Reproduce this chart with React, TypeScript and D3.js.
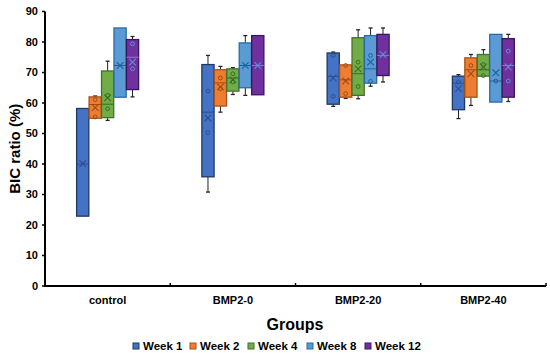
import React from "react";
import * as d3 from "d3";

const groups = ["control", "BMP2-0", "BMP2-20", "BMP2-40"];
const weeks = ["Week 1", "Week 2", "Week 4", "Week 8", "Week 12"];
const yTicks = [0, 10, 20, 30, 40, 50, 60, 70, 80, 90];

// per week: one value per group (control, BMP2-0, BMP2-20, BMP2-40)
const mins = [
  [22.9, 30.8, 58.9, 54.9],
  [55.0, 57.0, 61.5, 59.2],
  [54.3, 62.8, 61.4, 68.8],
  [61.9, 62.5, 65.5, 60.3],
  [62.0, 62.7, 66.9, 60.5],
];
const q1s = [
  [22.9, 35.8, 59.6, 57.8],
  [55.0, 59.0, 61.9, 61.9],
  [55.2, 63.9, 62.5, 68.8],
  [61.9, 65.0, 66.5, 60.3],
  [64.4, 62.7, 69.0, 61.9],
];
const medians = [
  [40.0, 57.0, 68.7, 66.5],
  [59.5, 66.6, 67.6, 70.9],
  [59.6, 68.2, 69.6, 70.9],
  [72.3, 72.3, 71.2, 67.2],
  [75.0, 72.3, 75.6, 72.3],
];
const q3s = [
  [58.2, 72.6, 76.4, 68.8],
  [62.0, 70.9, 72.5, 74.8],
  [70.5, 71.2, 81.4, 75.9],
  [84.6, 79.7, 82.1, 82.5],
  [80.8, 82.1, 82.5, 81.1],
];
const maxs = [
  [58.2, 75.6, 76.7, 69.3],
  [62.3, 72.0, 72.5, 75.9],
  [73.7, 71.6, 84.0, 77.5],
  [84.6, 82.1, 84.6, 82.5],
  [81.8, 82.1, 84.6, 82.5],
];
const means = [
  [40.1, 55.1, 68.2, 64.7],
  [58.5, 65.3, 67.2, 69.6],
  [61.7, 67.6, 71.2, 71.8],
  [72.3, 72.3, 73.4, 69.9],
  [73.4, 72.3, 75.9, 71.8],
];
const innerPoints: number[][][] = [
  [[], [63.9, 50.3], [75.6, 62.2], [66.9]],
  [[61.1, 55.4], [68.2, 64.7], [72.3, 63.1], [72.3]],
  [[62.5, 58.1], [69.6, 66.9], [73.4, 65.4], [72.6, 69.0]],
  [[], [], [75.6, 67.1], [67.2]],
  [[79.4, 71.2], [], [], [77.0, 67.2]],
];

const fills = ["#4472C4", "#ED7D31", "#70AD47", "#5B9BD5", "#7030A0"];
const strokes = ["#1F3864", "#A5521C", "#476F2C", "#2A6AA8", "#3A1858"];
const marks = ["#2F4F8F", "#A04C12", "#3D6B25", "#1F5F9A", "#5B8FD8"];

export default function App() {
  const width = 550;
  const height = 358;
  const font = "'Liberation Sans', Arial, sans-serif";

  const x = d3.scaleBand().domain(groups).range([45, 546]).padding(0);
  const inner = d3.scaleBand().domain(weeks).range([0, 62]).paddingInner(0.02);
  const y = d3.scaleLinear().domain([0, 90]).range([286, 11.5]);
  const bw = inner.bandwidth();

  return (
    <svg width={width} height={height} style={{ position: "absolute", left: 0, top: 0 }} fontFamily={font}>
      <rect width={width} height={height} fill="#fff" />
      {weeks.map((w, wi) =>
        groups.map((g, gi) => {
          const x0 = x(g)! + x.bandwidth() / 2 - 31 + inner(w)!;
          const cx = x0 + bw / 2;
          const fill = fills[wi];
          const st = strokes[wi];
          const mk = marks[wi];
          const m = means[wi][gi];
          return (
            <g key={w + g}>
              <line x1={cx} x2={cx} y1={y(maxs[wi][gi])} y2={y(q3s[wi][gi])} stroke="#222" strokeWidth={1} />
              <line x1={cx} x2={cx} y1={y(q1s[wi][gi])} y2={y(mins[wi][gi])} stroke="#222" strokeWidth={1} />
              {maxs[wi][gi] > q3s[wi][gi] && (
                <line x1={cx - 2} x2={cx + 2} y1={y(maxs[wi][gi])} y2={y(maxs[wi][gi])} stroke="#222" strokeWidth={1.3} />
              )}
              {mins[wi][gi] < q1s[wi][gi] && (
                <line x1={cx - 2} x2={cx + 2} y1={y(mins[wi][gi])} y2={y(mins[wi][gi])} stroke="#222" strokeWidth={1.3} />
              )}
              <rect
                x={x0}
                y={y(q3s[wi][gi])}
                width={bw}
                height={y(q1s[wi][gi]) - y(q3s[wi][gi])}
                fill={fill}
                stroke={st}
                strokeWidth={1.3}
              />
              <line x1={x0} x2={x0 + bw} y1={y(medians[wi][gi])} y2={y(medians[wi][gi])} stroke={mk} strokeWidth={1} />
              <path
                d={`M${cx - 3.3},${y(m) - 3.3}L${cx + 3.3},${y(m) + 3.3}M${cx + 3.3},${y(m) - 3.3}L${cx - 3.3},${y(m) + 3.3}`}
                stroke={mk}
                strokeWidth={1.1}
                fill="none"
              />
              {innerPoints[wi][gi].map((p, pi) => (
                <circle key={pi} cx={cx} cy={y(p)} r={1.9} fill="none" stroke={mk} strokeWidth={1} />
              ))}
            </g>
          );
        })
      )}
      {/* y axis */}
      <line x1={45} x2={45} y1={y(90)} y2={y(0)} stroke="#000" strokeWidth={2} />
      {yTicks.map((t) => (
        <g key={t}>
          <line x1={42} x2={45} y1={y(t)} y2={y(t)} stroke="#000" strokeWidth={1.5} />
          <text x={38} y={y(t)} dy="0.35em" textAnchor="end" fontSize={11} fontWeight="bold">
            {t}
          </text>
        </g>
      ))}
      {/* x axis */}
      <line x1={44} x2={546} y1={y(0)} y2={y(0)} stroke="#000" strokeWidth={2} />
      {groups.map((g) => (
        <g key={g}>
          <line x1={x(g)! + x.bandwidth()} x2={x(g)! + x.bandwidth()} y1={y(0)} y2={y(0) - 3} stroke="#000" strokeWidth={1.5} />
          <text x={x(g)! + x.bandwidth() / 2} y={304} textAnchor="middle" fontSize={11} fontWeight="bold">
            {g}
          </text>
        </g>
      ))}
      <text x={295} y={330} textAnchor="middle" fontSize={16} fontWeight="bold">
        Groups
      </text>
      <text
        transform={`translate(20,${y(45)}) rotate(-90)`}
        textAnchor="middle"
        fontSize={15}
        fontWeight="bold"
      >
        BIC ratio (%)
      </text>
      {/* legend */}
      {weeks.map((w, i) => {
        const lx = [133, 190, 248, 307, 365][i];
        return (
          <g key={w}>
            <rect x={lx} y={343} width={6} height={6} fill={fills[i]} stroke={strokes[i]} strokeWidth={1} />
            <text x={lx + 10} y={346} dy="0.35em" fontSize={11.5} fontWeight="bold">
              {w}
            </text>
          </g>
        );
      })}
    </svg>
  );
}
